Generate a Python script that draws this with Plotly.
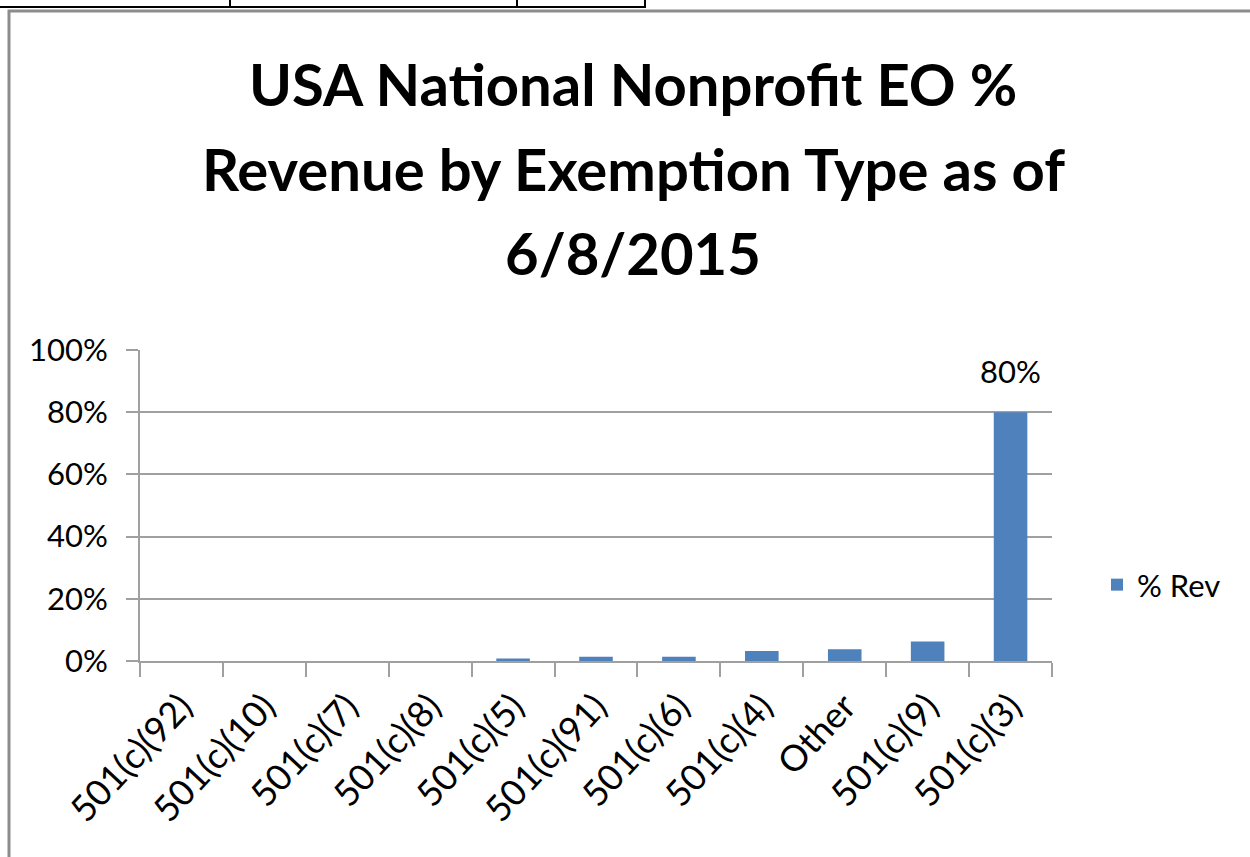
import plotly.graph_objects as go

categories = ["501(c)(92)", "501(c)(10)", "501(c)(7)", "501(c)(8)", "501(c)(5)",
              "501(c)(91)", "501(c)(6)", "501(c)(4)", "Other", "501(c)(9)", "501(c)(3)"]
pct_rev = [0.0, 0.0, 0.0, 0.0, 0.008, 0.014, 0.014, 0.032, 0.038, 0.063, 0.80]
series_name = "% Rev"
title_lines = ["USA National Nonprofit EO %", "Revenue by Exemption Type as of", "6/8/2015"]
labelled_category = "501(c)(3)"

FONT = "Lato, Calibri, sans-serif"
W, H = 1250, 857
L, R, T, B = 140, 1052, 350, 661  # plot area in pixels


def px(x):
    return (x - L) / (R - L)


def py(y):
    return (B - y) / (B - T)


fig = go.Figure()
fig.add_trace(go.Bar(
    x=categories, y=pct_rev, name=series_name,
    marker=dict(color="#4F81BD", line=dict(width=0)),
    showlegend=True,
))

annotations = []
title_y = [108, 193, 277]
for line, yb in zip(title_lines, title_y):
    annotations.append(dict(
        text="<b>%s</b>" % line, xref="paper", yref="paper",
        x=px(633), y=py(yb + 12), xanchor="center", yanchor="bottom",
        showarrow=False, font=dict(family=FONT, size=58, color="#000000"),
    ))

idx = categories.index(labelled_category)
annotations.append(dict(
    text="{:.0%}".format(pct_rev[idx]), x=labelled_category, y=pct_rev[idx],
    xref="x", yref="y", xanchor="center", yanchor="bottom", yshift=20,
    showarrow=False, font=dict(family=FONT, size=31, color="#000000"),
))

shapes = [
    # chart border
    dict(type="rect", xref="paper", yref="paper", x0=px(9), x1=px(1262), y0=py(870), y1=py(11),
         line=dict(color="#8c8c8c", width=3), layer="below"),
    # spreadsheet cell lines above chart
    dict(type="line", xref="paper", yref="paper", x0=px(0), x1=px(646), y0=py(7), y1=py(7),
         line=dict(color="#000000", width=2)),
]
for vx in [230, 517, 645]:
    shapes.append(dict(type="line", xref="paper", yref="paper", x0=px(vx), x1=px(vx),
                       y0=py(0), y1=py(7), line=dict(color="#000000", width=2)))

fig.update_layout(
    width=W, height=H,
    margin=dict(l=L, r=W - R, t=T, b=H - B, pad=0),
    paper_bgcolor="#ffffff", plot_bgcolor="#ffffff",
    font=dict(family=FONT, size=31, color="#000000"),
    bargap=0.595,
    annotations=annotations,
    shapes=shapes,
    legend=dict(x=px(1097), y=py(585), xanchor="left", yanchor="middle",
                font=dict(family=FONT, size=31, color="#000000"),
                bgcolor="rgba(0,0,0,0)"),
    xaxis=dict(
        type="category", showgrid=False, showline=True, linecolor="#a0a0a0", linewidth=2,
        ticks="outside", tickson="boundaries", ticklen=14, tickcolor="#a0a0a0", tickwidth=2,
        tickangle=-47, tickfont=dict(family=FONT, size=36, color="#000000"),
        ticklabelstandoff=8,
        range=[-0.5, len(categories) - 0.5],
    ),
    yaxis=dict(
        range=[0, 1], dtick=0.2, tickformat=".0%", showgrid=True, gridcolor="#a0a0a0", gridwidth=2,
        showline=True, linecolor="#a0a0a0", linewidth=2, ticks="outside", ticklen=12,
        tickcolor="#a0a0a0", tickwidth=2, zeroline=False,
        tickfont=dict(family=FONT, size=31, color="#000000"), ticklabelstandoff=12,
    ),
)

fig.write_html("out.html", config={"displayModeBar": False},
               post_script="document.body.style.margin='0px';")
